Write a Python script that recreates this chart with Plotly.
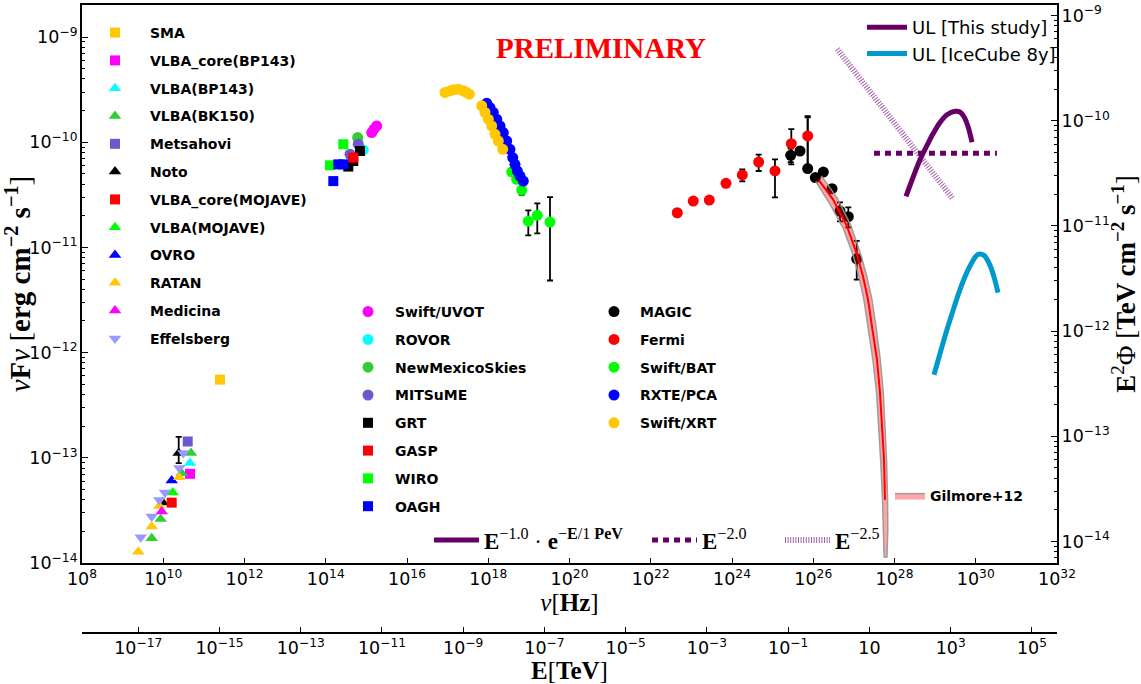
import numpy as np
import plotly.graph_objects as go

# ---------------- data: log10(nu [Hz]) and log10(nuFnu [erg cm^-2 s^-1]) ----------------
# Radio
sma_lognu = [11.397]
sma_logF = [-12.257]
vlbacore_bp143_lognu = [10.658]
vlbacore_bp143_logF = [-13.152]
vlba_bp143_lognu = [10.658]
vlba_bp143_logF = [-13.050]
vlba_bk150_lognu = [9.716, 9.937, 10.454, 10.683]
vlba_bk150_logF = [-13.765, -13.581, -13.146, -12.955]
metsahovi_lognu = [10.602]
metsahovi_logF = [-12.845]
noto_lognu = [9.986, 10.380]
noto_logF = [-13.426, -12.955]
noto_logF_hi = [-13.426, -12.800]
noto_logF_lo = [-13.426, -13.050]
vlbacore_mojave_lognu = [10.208]
vlbacore_mojave_logF = [-13.426]
vlba_mojave_lognu = [10.233]
vlba_mojave_logF = [-13.330]
ovro_lognu = [10.208]
ovro_logF = [-13.216]
ratan_lognu = [9.386, 9.716, 9.903, 10.395]
ratan_logF = [-13.892, -13.654, -13.457, -13.184]
medicina_lognu = [9.962]
medicina_logF = [-13.511]
effelsberg_lognu = [9.445, 9.716, 9.903, 10.043, 10.395, 10.494]
effelsberg_logF = [-13.755, -13.559, -13.400, -13.330, -13.098, -12.955]

# Optical / IR
uvot_lognu = [15.131, 15.188, 15.254]
uvot_logF = [-9.908, -9.876, -9.845]
rovor_lognu = [14.925]
rovor_logF = [-10.073]
nms_lognu = [14.786]
nms_logF = [-9.955]
mitsume_lognu = [14.597, 14.801]
mitsume_logF = [-10.114, -10.019]
grt_lognu = [14.555, 14.678, 14.843]
grt_logF = [-10.231, -10.178, -10.083]
gasp_lognu = [14.678]
gasp_logF = [-10.146]
wiro_lognu = [14.105, 14.432]
wiro_logF = [-10.219, -10.019]
oagh_lognu = [14.186, 14.309, 14.432]
oagh_logF = [-10.369, -10.210, -10.210]

# X-ray / gamma-ray
magic_lognu = [25.445, 25.674, 25.863, 26.051, 26.248, 26.462, 26.658, 26.863, 27.070]
magic_logF = [-10.124, -10.083, -10.250, -10.336, -10.283, -10.441, -10.654, -10.708, -11.108]
magic_logF_hi = [-10.060, -10.060, -9.752, -10.336, -10.283, -10.441, -10.571, -10.619, -10.937]
magic_logF_lo = [-10.190, -10.100, -10.260, -10.336, -10.283, -10.441, -10.752, -10.810, -11.305]
fermi_lognu = [22.653, 23.047, 23.441, 23.852, 24.254, 24.657, 25.058, 25.460, 25.863]
fermi_logF = [-10.670, -10.559, -10.550, -10.390, -10.311, -10.188, -10.273, -10.013, -9.940]
fermi_logF_hi = [-10.640, -10.559, -10.550, -10.390, -10.257, -10.117, -10.162, -9.876, -9.762]
fermi_logF_lo = [-10.700, -10.559, -10.550, -10.390, -10.371, -10.273, -10.524, -10.210, -10.252]
bat_lognu = [18.577, 18.700, 18.823, 18.986, 19.207, 19.520]
bat_logF = [-10.283, -10.352, -10.454, -10.750, -10.695, -10.759]
bat_logF_hi = [-10.283, -10.352, -10.420, -10.648, -10.581, -10.521]
bat_logF_lo = [-10.283, -10.352, -10.500, -10.886, -10.867, -11.314]
rxte_lognu = [17.962, 18.043, 18.124, 18.208, 18.289, 18.370, 18.454, 18.535, 18.602, 18.658,
              18.715, 18.782, 18.863]
rxte_logF = [-9.629, -9.670, -9.717, -9.781, -9.845, -9.908, -9.988, -10.067, -10.146, -10.210,
             -10.273, -10.321, -10.369]
xrt_lognu = [16.935, 17.058, 17.150, 17.263, 17.386, 17.460, 17.534, 17.839, 17.920, 18.001,
             18.085, 18.166, 18.248, 18.356]
xrt_logF = [-9.527, -9.511, -9.500, -9.495, -9.511, -9.525, -9.543, -9.654, -9.717, -9.781,
            -9.845, -9.924, -9.988, -10.067]

# Gilmore+12 EBL-absorbed model: central line and band edges
gil_lognu = [26.141, 26.486, 26.831, 27.077, 27.225, 27.348, 27.446, 27.569, 27.643, 27.692, 27.742, 27.766]
gil_logF = [-10.362, -10.543, -10.800, -11.067, -11.276, -11.495, -11.752, -12.067, -12.381, -12.705,
            -13.019, -13.400]
gil_hi_lognu = [26.200, 26.580, 26.925, 27.170, 27.320, 27.445, 27.545, 27.650, 27.725, 27.775, 27.805,
                27.830, 27.835, 27.815]
gil_hi_logF = [-10.320, -10.524, -10.790, -11.067, -11.276, -11.495, -11.752, -12.067, -12.381, -12.705,
               -13.019, -13.400, -13.686, -13.943]
gil_lo_lognu = [26.060, 26.400, 26.740, 26.985, 27.130, 27.250, 27.345, 27.470, 27.560, 27.610, 27.660,
                27.705, 27.725, 27.745]
gil_lo_logF = [-10.371, -10.581, -10.819, -11.076, -11.286, -11.505, -11.762, -12.076, -12.390, -12.714,
               -13.029, -13.400, -13.686, -13.943]

# Neutrino upper limits
ul_this_lognu = [28.283, 28.455, 28.628, 28.800, 28.948, 29.120, 29.292, 29.489, 29.612, 29.711, 29.809, 29.908]
ul_this_logF = [-10.514, -10.335, -10.166, -10.030, -9.920, -9.812, -9.738, -9.705, -9.712, -9.758, -9.850, -10.000]
ul_ic_lognu = [28.972, 29.145, 29.292, 29.465, 29.612, 29.785, 29.932, 30.055, 30.203, 30.351, 30.449, 30.548]
ul_ic_logF = [-12.210, -11.975, -11.780, -11.570, -11.400, -11.235, -11.125, -11.065, -11.075, -11.170,
              -11.280, -11.430]
pl20_lognu = [27.495, 30.520]
pl20_logF = [-10.105, -10.105]
pl25_lognu = [26.590, 29.447]
pl25_logF = [-9.114, -10.543]

# axis ranges (log10)
x_range = [8, 32]
y_range = [-14, -8.695]
ERG_TO_TEV = 0.624151          # 1 erg in TeV
H_TEV_S = 4.135667e-27          # Planck constant in TeV s


def pw(v):
    return np.power(10.0, np.asarray(v, dtype=float))


fig = go.Figure()


def add_pts(name, lognu, logF, symbol, color, legend, size=11, hi=None, lo=None):
    x = pw(lognu)
    y = pw(logF)
    err = None
    if hi is not None:
        err = dict(type='data', symmetric=False, array=pw(hi) - y, arrayminus=y - pw(lo),
                   color='black', thickness=1.8, width=3)
    fig.add_trace(go.Scatter(
        x=x, y=y, mode='markers', name=name, legend=legend, legendgroup=name,
        marker=dict(symbol=symbol, color=color, size=size, line=dict(width=0)),
        error_y=err, hoverinfo='skip'))


GOLD = '#FFC800'
LGREEN = '#32CD32'
SLATE = '#6A5ACD'

# radio
add_pts('SMA', sma_lognu, sma_logF, 'square', GOLD, 'legend', 10)
add_pts('VLBA_core(BP143)', vlbacore_bp143_lognu, vlbacore_bp143_logF, 'square', '#FF00FF', 'legend', 10)
add_pts('VLBA(BP143)', vlba_bp143_lognu, vlba_bp143_logF, 'triangle-up', '#00FFFF', 'legend', 11)
add_pts('VLBA(BK150)', vlba_bk150_lognu, vlba_bk150_logF, 'triangle-up', LGREEN, 'legend', 11)
add_pts('Metsahovi', metsahovi_lognu, metsahovi_logF, 'square', SLATE, 'legend', 10)
add_pts('Noto', noto_lognu, noto_logF, 'triangle-up', 'black', 'legend', 11, noto_logF_hi, noto_logF_lo)
add_pts('VLBA_core(MOJAVE)', vlbacore_mojave_lognu, vlbacore_mojave_logF, 'square', '#FF0000', 'legend', 10)
add_pts('VLBA(MOJAVE)', vlba_mojave_lognu, vlba_mojave_logF, 'triangle-up', '#00FF00', 'legend', 11)
add_pts('OVRO', ovro_lognu, ovro_logF, 'triangle-up', '#0000FF', 'legend', 11)
add_pts('RATAN', ratan_lognu, ratan_logF, 'triangle-up', GOLD, 'legend', 11)
add_pts('Medicina', medicina_lognu, medicina_logF, 'triangle-up', '#FF00FF', 'legend', 11)
add_pts('Effelsberg', effelsberg_lognu, effelsberg_logF, 'triangle-down', '#9999FF', 'legend', 11)

# optical
add_pts('Swift/UVOT', uvot_lognu, uvot_logF, 'circle', '#FF00FF', 'legend2')
add_pts('ROVOR', rovor_lognu, rovor_logF, 'circle', '#00FFFF', 'legend2')
add_pts('NewMexicoSkies', nms_lognu, nms_logF, 'circle', LGREEN, 'legend2')
add_pts('MITSuME', mitsume_lognu, mitsume_logF, 'circle', SLATE, 'legend2')
add_pts('GRT', grt_lognu, grt_logF, 'square', 'black', 'legend2', 10)
add_pts('GASP', gasp_lognu, gasp_logF, 'square', '#FF0000', 'legend2', 10)
add_pts('WIRO', wiro_lognu, wiro_logF, 'square', '#00FF00', 'legend2', 10)
add_pts('OAGH', oagh_lognu, oagh_logF, 'square', '#0000FF', 'legend2', 10)

# X-ray / gamma
add_pts('MAGIC', magic_lognu, magic_logF, 'circle', 'black', 'legend3', 11, magic_logF_hi, magic_logF_lo)
add_pts('Fermi', fermi_lognu, fermi_logF, 'circle', '#FF0000', 'legend3', 11, fermi_logF_hi, fermi_logF_lo)
add_pts('Swift/BAT', bat_lognu, bat_logF, 'circle', '#00FF00', 'legend3', 11, bat_logF_hi, bat_logF_lo)
add_pts('RXTE/PCA', rxte_lognu, rxte_logF, 'circle', '#0000FF', 'legend3', 11)
add_pts('Swift/XRT', xrt_lognu, xrt_logF, 'circle', GOLD, 'legend3', 11)

# Gilmore+12 band + line
band_x = np.concatenate([pw(gil_hi_lognu), pw(gil_lo_lognu)[::-1]])
band_y = np.concatenate([pw(gil_hi_logF), pw(gil_lo_logF)[::-1]])
fig.add_trace(go.Scatter(x=band_x, y=band_y, mode='lines', fill='toself',
                         fillcolor='rgba(255,0,0,0.35)', line=dict(color='rgba(150,150,150,0.9)', width=1.5),
                         name='Gilmore+12', legend='legend8', hoverinfo='skip'))
fig.add_trace(go.Scatter(x=pw(gil_lognu), y=pw(gil_logF), mode='lines', line=dict(color='#FF0000', width=2),
                         showlegend=False, hoverinfo='skip'))

PURPLE = '#660066'
HATCH = '#A35BA8'
# UL curves
fig.add_trace(go.Scatter(x=pw(pl25_lognu), y=pw(pl25_logF), mode='lines',
                         line=dict(color=HATCH, width=6, dash='1px,1.6px'),
                         name='<b>E</b><sup>−2.5</sup>', legend='legend7', hoverinfo='skip'))
fig.add_trace(go.Scatter(x=pw(pl20_lognu), y=pw(pl20_logF), mode='lines',
                         line=dict(color=PURPLE, width=5, dash='6px,5px'),
                         name='<b>E</b><sup>−2.0</sup>', legend='legend6', hoverinfo='skip'))
fig.add_trace(go.Scatter(x=pw(ul_this_lognu), y=pw(ul_this_logF), mode='lines', line_shape='spline',
                         line=dict(color=PURPLE, width=5), name='UL [This study]', legend='legend4',
                         hoverinfo='skip'))
fig.add_trace(go.Scatter(x=pw(ul_ic_lognu), y=pw(ul_ic_logF), mode='lines', line_shape='spline',
                         line=dict(color='#0099CC', width=5), name='UL [IceCube 8y]', legend='legend4',
                         hoverinfo='skip'))
# legend-only key for the spectral shape of the UL curve
fig.add_trace(go.Scatter(x=[None], y=[None], mode='lines', line=dict(color=PURPLE, width=5),
                         name='<b>E</b><sup>−1.0</sup> · <b>e</b><sup>−<b>E</b>/1 <b>PeV</b></sup>',
                         legend='legend5', hoverinfo='skip'))

# dummy trace to realise the secondary axes (E [TeV] and E^2 Phi [TeV cm^-2 s^-1])
fig.add_trace(go.Scatter(x=[pw(x_range[0]) * H_TEV_S * 10], y=[pw(y_range[0]) * ERG_TO_TEV * 10],
                         xaxis='x2', yaxis='y2', mode='markers', marker=dict(opacity=0),
                         showlegend=False, hoverinfo='skip'))

W, H = 1141, 684
ML, MR, MT, MB = 82, 84, 5, 51
PH = H - MT - MB
PW = W - ML - MR
y_bottom_px = 563
dom0 = (H - MB - y_bottom_px) / PH


def px(xp):
    return (xp - ML) / PW


def py(yp):
    return (H - MB - yp) / PH


tickfont = dict(family='DejaVu Sans', size=14, color='black')
serif = 'Liberation Serif'

fig.update_layout(
    width=W, height=H, template='none',
    font=dict(color='black'),
    margin=dict(l=ML, r=MR, t=MT, b=MB, autoexpand=False),
    paper_bgcolor='white', plot_bgcolor='white',
    xaxis=dict(type='log', range=x_range, dtick=2, showgrid=False, zeroline=False,
               showline=True, mirror=True, linecolor='black', linewidth=1.5,
               ticks='inside', ticklen=5, tickcolor='black', exponentformat='power',
               tickfont=tickfont, anchor='y',
               title=dict(text='<i>ν</i>[<b>Hz</b>]', font=dict(family=serif, size=25, color='black'),
                          standoff=4)),
    xaxis2=dict(type='log', overlaying='x', anchor='free', position=0, side='bottom',
                range=[x_range[0] + np.log10(H_TEV_S), x_range[1] + np.log10(H_TEV_S)],
                dtick=2, tick0=1, showgrid=False, zeroline=False, showline=True,
                linecolor='black', linewidth=1.5, ticks='inside', ticklen=5, tickcolor='black',
                exponentformat='power', tickfont=tickfont,
                title=dict(text='<b>E</b>[<b>TeV</b>]', font=dict(family=serif, size=25, color='black'),
                           standoff=0)),
    yaxis=dict(type='log', range=y_range, domain=[dom0, 1], dtick=1, showgrid=False, zeroline=False,
               showline=True, mirror=True, linecolor='black', linewidth=1.5,
               ticks='inside', ticklen=6, tickcolor='black', exponentformat='power',
               tickfont=tickfont, minor=dict(ticks='inside', ticklen=3, tickcolor='black', showgrid=False),
               title=dict(text='<i>ν</i><b>F</b><i>ν</i> [<b>erg cm<sup>−2</sup> s<sup>−1</sup></b>]',
                          font=dict(family=serif, size=29, color='black'), standoff=2)),
    yaxis2=dict(type='log', overlaying='y', side='right', anchor='x',
                range=[y_range[0] + np.log10(ERG_TO_TEV), y_range[1] + np.log10(ERG_TO_TEV)],
                dtick=1, showgrid=False, zeroline=False, showline=True, linecolor='black', linewidth=1.5,
                ticks='inside', ticklen=6, tickcolor='black', exponentformat='power', tickfont=tickfont,
                minor=dict(ticks='inside', ticklen=3, tickcolor='black', showgrid=False),
                title=dict(text='<b>E</b><sup>2</sup>Φ [<b>TeV cm<sup>−2</sup> s<sup>−1</sup></b>]',
                           font=dict(family=serif, size=27, color='black'), standoff=2)),
    showlegend=True,
)

legfont = dict(family='DejaVu Sans', size=14, color='black', weight='bold')
common = dict(bgcolor='rgba(0,0,0,0)', borderwidth=0, font=legfont, tracegroupgap=6.6,
              xanchor='left', yanchor='top', itemsizing='trace')
serif_leg = dict(family=serif, size=23, color='black')
plain = dict(bgcolor='rgba(0,0,0,0)', xanchor='left', yanchor='middle', itemwidth=45)
fig.update_layout(
    legend=dict(x=px(80), y=py(17), itemwidth=60, **common),
    legend2=dict(x=px(341), y=py(296), itemwidth=44, **common),
    legend3=dict(x=px(588), y=py(296), itemwidth=42, **common),
    legend4=dict(x=px(862), y=py(9), bgcolor='rgba(0,0,0,0)',
                 font=dict(family='DejaVu Sans', size=18, color='black'),
                 xanchor='left', yanchor='top', tracegroupgap=0, itemwidth=40),
    legend5=dict(x=px(429), y=py(540), font=serif_leg, **plain),
    legend6=dict(x=px(647), y=py(540), font=serif_leg, **plain),
    legend7=dict(x=px(780), y=py(540), font=serif_leg, **plain),
    legend8=dict(x=px(890), y=py(496), xanchor='left', yanchor='middle', bgcolor='rgba(0,0,0,0)',
                 font=dict(family='DejaVu Sans', size=14, weight='bold', color='black')),
)

fig.add_annotation(text='<b>PRELIMINARY</b>', x=px(601), y=py(30), xref='paper', yref='paper',
                   showarrow=False, font=dict(family=serif, size=29, color='#FF0000'))

fig.write_html('out.html', config={'displayModeBar': False},
               post_script="document.body.style.margin='0px';")
